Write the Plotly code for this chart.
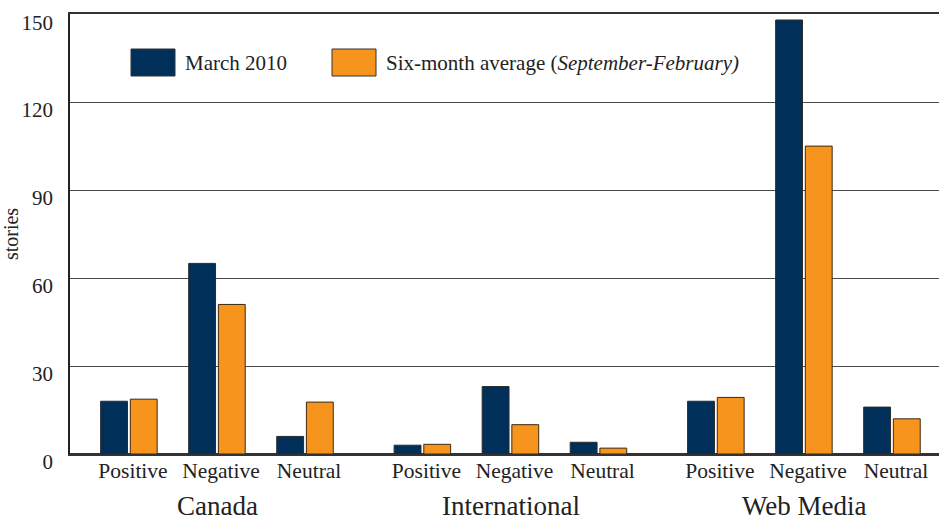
import plotly.graph_objects as go

groups = ["Canada", "International", "Web Media"]
tones = ["Positive", "Negative", "Neutral"]
march_2010 = [18, 65, 6, 3, 23, 4, 18, 148, 16]
six_month_avg = [18.7, 51, 17.7, 3.3, 10, 2, 19.3, 105, 12]
y_ticks = [0, 30, 60, 90, 120, 150]

NAVY = "#00305a"
ORANGE = "#f7941e"
FONT = "Liberation Serif"

group_step = len(tones) + 1 / 3
xpos = [g * group_step + i for g in range(len(groups)) for i in range(len(tones))]
xlabels = [t for _ in groups for t in tones]

fig = go.Figure()
fig.add_trace(go.Bar(
    x=xpos, y=march_2010, name="March 2010",
    marker=dict(color=NAVY, line=dict(color="#2b2b2b", width=1)),
    width=0.305, offset=-0.322, showlegend=False,
))
fig.add_trace(go.Bar(
    x=xpos, y=six_month_avg, name="Six-month average",
    marker=dict(color=ORANGE, line=dict(color="#3a2a10", width=1)),
    width=0.305, offset=0.015, showlegend=False,
))

# group labels
for g, name in enumerate(groups):
    fig.add_annotation(
        x=g * group_step + 1, y=0, xref="x", yref="paper",
        yshift=-69, yanchor="bottom", showarrow=False,
        text=name, font=dict(family=FONT, size=27, color="#222"),
    )

# custom legend with large swatches
legend_items = [("March 2010", NAVY, 131), ("Six-month average (<i>September-February)</i>", ORANGE, 332)]
for text, color, px in legend_items:
    fig.add_shape(
        type="rect", xref="paper", yref="paper",
        x0=(px - 70) / 869, x1=(px + 44 - 70) / 869,
        y0=(454 - 76) / 440, y1=(454 - 49) / 440,
        fillcolor=color, line=dict(color="#333", width=1),
    )
    fig.add_annotation(
        x=(px + 52 - 70) / 869, y=(454 - 62.5) / 440, xref="paper", yref="paper",
        xanchor="left", yanchor="middle", showarrow=False,
        text=text, font=dict(family=FONT, size=21, color="#222"),
    )

fig.update_layout(
    width=939, height=520,
    margin=dict(l=70, r=0, t=14, b=66),
    paper_bgcolor="white", plot_bgcolor="white",
    barmode="overlay",
    font=dict(family=FONT, color="#222"),
    xaxis=dict(
        tickvals=xpos, ticktext=xlabels, range=[-0.67, 9.2],
        showgrid=False, zeroline=False, showline=True, mirror=True,
        linecolor="#333", linewidth=1.5, ticks="",
        tickfont=dict(family=FONT, size=21.5, color="#222"),
        ticklabelshift=4, ticklabelstandoff=-4, automargin=False,
    ),
    yaxis=dict(
        range=[0, 150.05], tickvals=y_ticks,
        showgrid=True, gridcolor="#4a4a4a", gridwidth=1,
        zeroline=True, zerolinecolor="#333", zerolinewidth=1.5,
        showline=True, linecolor="#222", linewidth=1.5,
        ticks="", ticklabelstandoff=11, ticklabelshift=8,
        tickfont=dict(family=FONT, size=21, color="#222"),
        title=dict(text="stories", font=dict(family=FONT, size=20, color="#222"), standoff=17),
        automargin=False,
    ),
)

fig.write_html(
    "out.html",
    config={"displayModeBar": False},
    post_script="document.body.style.margin='0';document.body.style.padding='0';document.body.style.overflow='hidden';",
)
